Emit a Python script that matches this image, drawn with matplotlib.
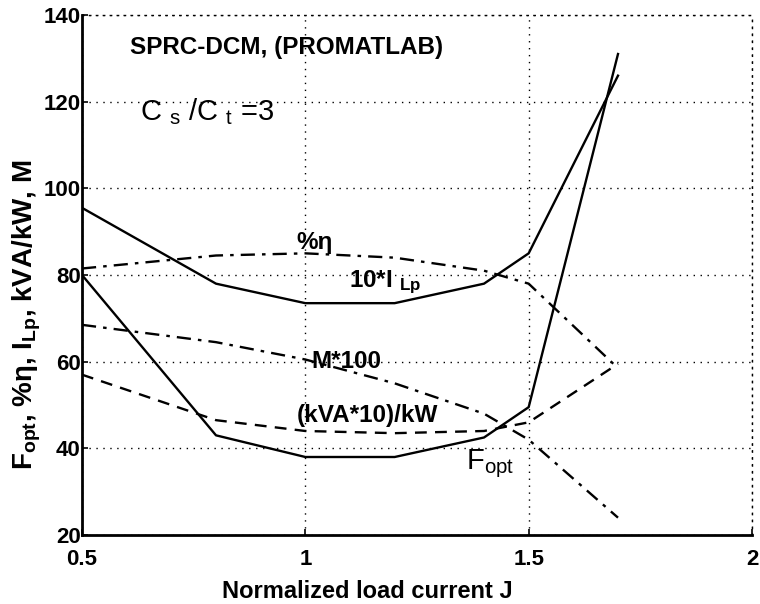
import matplotlib
matplotlib.use("Agg")
import matplotlib.pyplot as plt

plt.rcParams["font.family"] = ["Liberation Sans", "DejaVu Sans"]
plt.rcParams["mathtext.fontset"] = "custom"
plt.rcParams["mathtext.rm"] = "Liberation Sans"
plt.rcParams["mathtext.it"] = "Liberation Sans"
plt.rcParams["mathtext.bf"] = "Liberation Sans:bold"

# normalized load current J at each computed point
J = [0.5, 0.8, 1.0, 1.2, 1.4, 1.5, 1.7]
f_opt = [80, 43, 38, 38, 42.5, 49.5, 131]
i_lp10 = [95.5, 78, 73.5, 73.5, 78, 85, 126]
eff = [81.5, 84.5, 85, 84, 81, 78, 58.5]
m100 = [68.5, 64.5, 60.5, 55, 48, 42, 24]
kva10 = [57, 46.5, 44, 43.5, 44, 46, 59.5]

xticks = [0.5, 1, 1.5, 2]
xticklabels = ["0.5", "1", "1.5", "2"]
yticks = [20, 40, 60, 80, 100, 120, 140]

W, H = 760, 604
fig = plt.figure(figsize=(W / 100, H / 100), dpi=100)
ax = fig.add_axes([82 / W, 69 / H, 670 / W, 520 / H])

lw = 1.7
ax.plot(J, f_opt, "k-", lw=lw)
ax.plot(J, i_lp10, "k-", lw=lw)
ax.plot(J, eff, "k", lw=lw, dashes=(6, 3, 1.5, 3))
ax.plot(J, m100, "k", lw=lw, dashes=(6, 3, 1.5, 3))
ax.plot(J, kva10, "k", lw=lw, dashes=(5, 3.5))

ax.set_xlim(0.5, 2)
ax.set_ylim(20, 140)
ax.set_xticks(xticks)
ax.set_xticklabels(xticklabels)
ax.set_yticks(yticks)
ax.grid(True, color="k", linestyle=(0, (1, 4)), lw=1.0)
ax.tick_params(direction="in", length=4, width=1.2, labelsize=16)
ax.tick_params(axis="x", pad=10)
ax.tick_params(axis="y", pad=1)
for lab in ax.get_xticklabels() + ax.get_yticklabels():
    lab.set_fontweight("bold")
for s in ("left", "bottom"):
    ax.spines[s].set_linewidth(2.0)
for s in ("top", "right"):
    ax.spines[s].set_linestyle((0, (1, 4)))
    ax.spines[s].set_linewidth(1.0)

ax.set_xlabel("Normalized load current J", fontsize=17, fontweight="bold")
ax.xaxis.set_label_coords((367 - 82) / 670, -(591 - 535) / 520)
ax.xaxis.label.set_va("center")
ax.set_ylabel(r"F$_{\mathbf{opt}}$, %η, I$_{\mathbf{Lp}}$, kVA/kW, M",
              fontsize=20, fontweight="bold")
ax.yaxis.set_label_coords(-(82 - 27) / 670, (535 - 315) / 520)
ax.yaxis.label.set_va("center")

kw = dict(fontsize=17.5, fontweight="bold", va="center", ha="left")
ax.text(0.607, 132.6, "SPRC-DCM, (PROMATLAB)", **kw)
ax.text(0.63, 117.7, r"C $_\mathrm{s}$ /C $_\mathrm{t}$ =3", fontsize=21, va="center", ha="left")
ax.text(0.98, 87.4, "%η", **kw)
ax.text(1.098, 78.2, r"10*I $_{\mathbf{Lp}}$", **kw)
ax.text(1.013, 60, "M*100", **kw)
ax.text(0.98, 47.6, "(kVA*10)/kW", **kw)
ax.text(1.36, 36.5, r"F$_{\mathrm{opt}}$", fontsize=21, va="center", ha="left")

fig.savefig("out.png", dpi=100)
